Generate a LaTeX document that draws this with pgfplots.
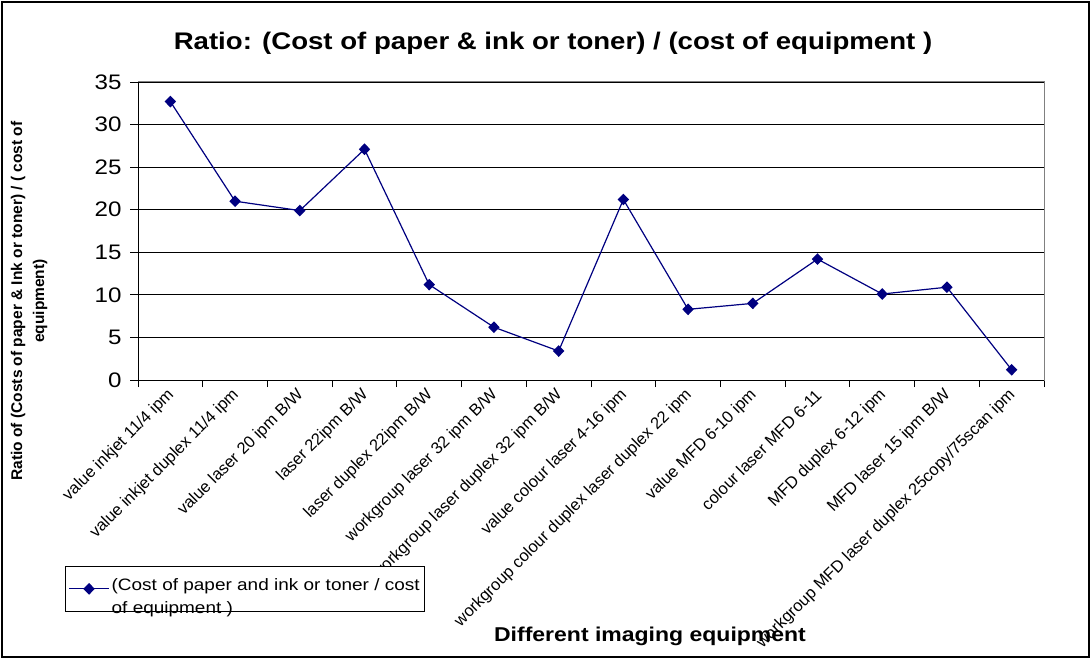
\documentclass[border=0pt]{standalone}
\usepackage{pgfplots}
\pgfplotsset{compat=1.18}
\usepackage{fontspec}
\setmainfont{Liberation Sans}
\definecolor{navyline}{RGB}{0,0,128}
% horizontally widened text, as in the original chart
\newcommand{\wide}[1]{\scalebox{1.15}[1]{#1}}
\begin{document}
\begin{tikzpicture}[x=1pt,y=1pt]
% outer frame of the chart
\path[use as bounding box] (0,0) rectangle (1091,659);
\draw[line width=1.5pt] (2,2) rectangle (1089,657);
% title
\node[font=\fontsize{24}{28}\selectfont\bfseries] at (553,616)
  {\wide{Ratio: (Cost of paper \& ink or toner) / (cost of equipment )}};
% y label
\node[rotate=90, align=center, font=\fontsize{15.5}{22}\selectfont\bfseries] at (29,358)
  {Ratio of (Costs of paper \& Ink or toner) / ( cost of\\equipment)};
% x label
\node[font=\fontsize{20}{24}\selectfont\bfseries] at (650,23) {\wide{Different imaging equipment}};
\begin{axis}[
  at={(138pt,279pt)}, anchor=south west,
  scale only axis, width=906pt, height=298pt,
  xmin=-0.5, xmax=13.5, ymin=0, ymax=35,
  ytick={0,5,...,35},
  xtick={0,...,13},
  minor xtick={-0.5,0.5,...,13.5},
  major x tick style={draw=none},
  minor tick length=7pt,
  major tick length=8pt,
  tick align=outside,
  xtick pos=bottom, ytick pos=left,
  ymajorgrids, grid style={black, line width=0.8pt},
  axis line style={draw=gray, line width=1pt},
  tick style={black, line width=0.8pt},
  /pgf/number format/assume math mode=true,
  yticklabel={\wide{\pgfmathprintnumber{\tick}}},
  yticklabel style={font=\fontsize{21}{24}\selectfont, xshift=-5pt},
  xticklabel style={font=\fontsize{16.5}{19}\selectfont, rotate=45, anchor=east, xshift=1pt, yshift=-4pt},
  xticklabels={
    value inkjet 11/4 ipm,
    value inkjet duplex 11/4 ipm,
    value laser 20 ipm B/W,
    laser 22ipm B/W,
    laser duplex 22ipm B/W,
    workgroup laser 32 ipm B/W,
    workgroup laser duplex 32 ipm B/W,
    value colour laser 4-16 ipm,
    workgroup colour duplex laser duplex 22 ipm,
    value MFD 6-10 ipm,
    colour laser MFD 6-11,
    MFD duplex 6-12 ipm,
    MFD laser 15 ipm B/W,
    workgroup MFD laser duplex 25copy/75scan ipm},
  legend style={at={(-0.0806,-0.624)}, anchor=north west,
    draw=black, line width=1pt, font=\fontsize{16.5}{23}\selectfont,
    inner xsep=3pt, inner ysep=6pt, row sep=0pt},
  legend cell align=left,
  legend image code/.code={\draw[mark repeat=2,mark phase=2,#1]
    plot coordinates {(0pt,0pt) (20pt,0pt) (40pt,0pt)};},
  after end axis/.code={
    \draw[black, line width=1pt] (rel axis cs:0,1) -- (rel axis cs:0,0) -- (rel axis cs:1,0);
  },
]
\addplot[navyline, line width=1.2pt, mark=diamond*, mark size=5pt,
  mark options={fill=navyline, draw=navyline, xscale=1.3}] coordinates {
  (0,32.7) (1,21.0) (2,19.9) (3,27.1) (4,11.2) (5,6.2) (6,3.4)
  (7,21.2) (8,8.3) (9,9.0) (10,14.2) (11,10.1) (12,10.9) (13,1.2)
};
\addlegendentry{\wide{\begin{tabular}{@{}l@{}}(Cost of paper and ink or toner / cost\\of equipment )\end{tabular}}}
\end{axis}
\end{tikzpicture}
\end{document}
